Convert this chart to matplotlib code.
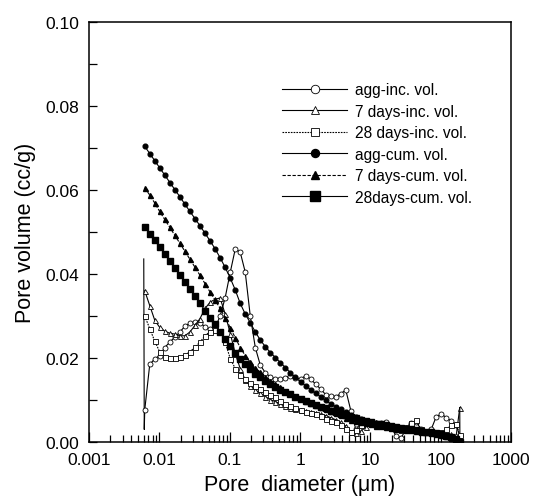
import matplotlib
matplotlib.use("Agg")
import matplotlib.pyplot as plt
from matplotlib.ticker import MultipleLocator, LogLocator, NullFormatter, FixedLocator, FixedFormatter

plt.rcParams['font.family'] = ['Liberation Sans', 'DejaVu Sans']

# pore diameter (um), shared by all series
diameter = [0.0062, 0.0073, 0.0086, 0.0101, 0.0119, 0.0141, 0.0166, 0.0196, 0.0231, 0.0272,
            0.0321, 0.0378, 0.0446, 0.0526, 0.062, 0.073, 0.086, 0.102, 0.120, 0.141,
            0.166, 0.196, 0.231, 0.272, 0.321, 0.378, 0.446, 0.526, 0.62, 0.73,
            0.86, 1.02, 1.20, 1.41, 1.66, 1.96, 2.31, 2.72, 3.21, 3.78,
            4.46, 5.26, 6.2, 7.3, 8.6, 10.2, 12.0, 14.1, 16.6, 19.6,
            23.1, 27.2, 32.1, 37.8, 44.6, 52.6, 62, 73, 86, 102,
            120, 141, 166, 186]

agg_inc = [0.0077, 0.0185, 0.0198, 0.0206, 0.0225, 0.0238, 0.0250, 0.0262, 0.0276, 0.0283,
           0.0286, 0.0283, 0.0275, 0.0268, 0.0272, 0.0300, 0.0343, 0.0405, 0.0460, 0.0452,
           0.0405, 0.0300, 0.0225, 0.0183, 0.0165, 0.0155, 0.0150, 0.0150, 0.0153, 0.0158,
           0.0153, 0.0150, 0.0158, 0.0150, 0.0138, 0.0126, 0.0113, 0.0110, 0.0108, 0.0115,
           0.0124, 0.0075, 0.0030, 0.0045, 0.0050, 0.0042, 0.0040, 0.0045, 0.0048, 0.0035,
           0.0015, 0.0010, 0.0030, 0.0045, 0.0048, 0.0030, 0.0025, 0.0030, 0.0060, 0.0067,
           0.0058, 0.0050, 0.0040, 0.0015]
# first readings of agg-inc (no symbols drawn)
agg_inc_head_d = [0.0060, 0.0061, 0.0062]
agg_inc_head_v = [0.0436, 0.0030, 0.0077]

d7_inc = [0.0360, 0.0325, 0.0290, 0.0273, 0.0264, 0.0259, 0.0257, 0.0253, 0.0253, 0.0262,
          0.0278, 0.0294, 0.0318, 0.0333, 0.0340, 0.0343, 0.0305, 0.0258, 0.0210, 0.0175,
          0.0148, 0.0133, 0.0124, 0.0116, 0.0108, 0.0101, 0.0096, 0.0091, 0.0086, 0.0081,
          0.0078, 0.0076, 0.0073, 0.0071, 0.0068, 0.0066, 0.0063, 0.0058, 0.0053, 0.0047,
          0.0038, 0.0025, 0.0022, 0.0026, 0.0035, 0.0045, 0.0047, 0.0042, 0.0038, 0.0036,
          0.0035, 0.0030, 0.0036, 0.0042, 0.0030, 0.0028, 0.0026, 0.0025, 0.0024, 0.0022,
          0.0020, 0.0018, 0.0016, 0.0082]
d7_inc_tail_d = [186, 187]
d7_inc_tail_v = [0.0082, 0.0]

d28_inc = [0.0300, 0.0270, 0.0240, 0.0215, 0.0203, 0.0200, 0.0200, 0.0202, 0.0207, 0.0215,
           0.0226, 0.0238, 0.0253, 0.0263, 0.0266, 0.0261, 0.0238, 0.0198, 0.0175, 0.0160,
           0.0149, 0.0140, 0.0134, 0.0126, 0.0119, 0.0113, 0.0107, 0.0098, 0.0091, 0.0085,
           0.0080, 0.0076, 0.0072, 0.0069, 0.0066, 0.0062, 0.0055, 0.0050, 0.0048, 0.0040,
           0.0030, 0.0025, 0.0028, 0.0040, 0.0045, 0.0042, 0.0040, 0.0040, 0.0038, 0.0033,
           0.0030, 0.0028, 0.0035, 0.0045, 0.0052, 0.0030, 0.0024, 0.0022, 0.0025, 0.0024,
           0.0030, 0.0040, 0.0044, 0.0016]

agg_cum = [0.0704, 0.0687, 0.0670, 0.0653, 0.0636, 0.0618, 0.0601, 0.0584, 0.0566, 0.0549,
           0.0532, 0.0515, 0.0497, 0.0479, 0.0460, 0.0439, 0.0416, 0.0390, 0.0362, 0.0330,
           0.0305, 0.0284, 0.0262, 0.0243, 0.0227, 0.0213, 0.0201, 0.0189, 0.0177, 0.0165,
           0.0154, 0.0143, 0.0134, 0.0125, 0.0116, 0.0108, 0.0099, 0.0091, 0.0084, 0.0078,
           0.0071, 0.0064, 0.0059, 0.0055, 0.0051, 0.0048, 0.0045, 0.0042, 0.0039, 0.0036,
           0.0034, 0.0032, 0.0030, 0.0028, 0.0026, 0.0024, 0.0023, 0.0021, 0.0019, 0.0017,
           0.0014, 0.0011, 0.0007, 0.0002]

d7_cum = [0.0605, 0.0588, 0.0569, 0.0549, 0.0530, 0.0511, 0.0492, 0.0473, 0.0454, 0.0435,
          0.0416, 0.0397, 0.0377, 0.0357, 0.0338, 0.0318, 0.0296, 0.0272, 0.0248, 0.0225,
          0.0206, 0.0190, 0.0177, 0.0166, 0.0155, 0.0146, 0.0138, 0.0130, 0.0122, 0.0116,
          0.0110, 0.0104, 0.0098, 0.0093, 0.0088, 0.0083, 0.0078, 0.0073, 0.0069, 0.0064,
          0.0058, 0.0053, 0.0050, 0.0047, 0.0045, 0.0042, 0.0039, 0.0037, 0.0035, 0.0033,
          0.0032, 0.0030, 0.0029, 0.0028, 0.0026, 0.0025, 0.0023, 0.0022, 0.0020, 0.0017,
          0.0014, 0.0010, 0.0005, 0.0001]

d28_cum = [0.0512, 0.0496, 0.0480, 0.0464, 0.0448, 0.0431, 0.0415, 0.0398, 0.0381, 0.0364,
           0.0347, 0.0330, 0.0313, 0.0296, 0.0280, 0.0263, 0.0245, 0.0228, 0.0212, 0.0198,
           0.0185, 0.0173, 0.0163, 0.0154, 0.0146, 0.0139, 0.0132, 0.0125, 0.0119, 0.0114,
           0.0108, 0.0103, 0.0098, 0.0093, 0.0089, 0.0084, 0.0080, 0.0075, 0.0071, 0.0067,
           0.0064, 0.0060, 0.0056, 0.0052, 0.0049, 0.0047, 0.0044, 0.0042, 0.0040, 0.0038,
           0.0036, 0.0034, 0.0032, 0.0031, 0.0029, 0.0027, 0.0025, 0.0023, 0.0021, 0.0018,
           0.0015, 0.0011, 0.0006, 0.0001]

x_ticks = [0.001, 0.01, 0.1, 1, 10, 100, 1000]
x_tick_labels = ['0.001', '0.01', '0.1', '1', '10', '100', '1000']

fig = plt.figure(figsize=(5.33, 5.02), dpi=100)
ax = fig.add_axes([0.167, 0.1175, 0.792, 0.8365])

lw = 0.8
ax.plot(agg_inc_head_d, agg_inc_head_v, color='k', lw=lw)
ax.plot(diameter, agg_inc, color='k', lw=lw, marker='o', ms=3.6, mfc='white', mew=0.6,
        label='agg-inc. vol.')
ax.plot(diameter, d7_inc, color='k', lw=lw, marker='^', ms=3.6, mfc='white', mew=0.6,
        label='7 days-inc. vol.')
ax.plot(d7_inc_tail_d, d7_inc_tail_v, color='k', lw=lw)
ax.plot(diameter, d28_inc, color='k', lw=lw, ls=(0, (1.5, 1)), marker='s', ms=3.6, mfc='white',
        mew=0.6, label='28 days-inc. vol.')
ax.plot(diameter, agg_cum, color='k', lw=lw, marker='o', ms=3.4, label='agg-cum. vol.')
ax.plot(diameter, d7_cum, color='k', lw=lw, ls=(0, (3, 1.5)), marker='^', ms=3.6,
        label='7 days-cum. vol.')
ax.plot(diameter, d28_cum, color='k', lw=lw, marker='s', ms=4.2, label='28days-cum. vol.')

ax.set_xscale('log')
ax.set_xlim(0.001, 1000)
ax.set_ylim(0, 0.10)
ax.xaxis.set_major_locator(FixedLocator(x_ticks))
ax.xaxis.set_major_formatter(FixedFormatter(x_tick_labels))
ax.xaxis.set_minor_locator(LogLocator(base=10, subs=range(2, 10), numticks=20))
ax.xaxis.set_minor_formatter(NullFormatter())
ax.yaxis.set_major_locator(MultipleLocator(0.02))
ax.yaxis.set_minor_locator(MultipleLocator(0.01))
ax.yaxis.set_major_formatter(plt.FuncFormatter(lambda v, p: f'{v:.2f}'))

ax.tick_params(axis='both', which='both', direction='in', top=False, right=False,
               labelsize=12.5, width=0.9)
ax.tick_params(axis='x', which='major', length=7, pad=7)
ax.tick_params(axis='x', which='minor', length=5)
ax.tick_params(axis='y', which='both', length=6, pad=7)
for s in ax.spines.values():
    s.set_linewidth(1.1)

ax.set_xlabel('Pore  diameter (\u03bcm)', fontsize=15.5, labelpad=5)
ax.set_ylabel('Pore volume (cc/g)', fontsize=15.5, labelpad=7)

ax.legend(loc='upper left', bbox_to_anchor=(0.457, 0.857), frameon=False, fontsize=11.2,
          handlelength=4.2, handletextpad=0.5, labelspacing=0.42, markerscale=1.7,
          borderaxespad=0, borderpad=0)

fig.savefig('out.png', dpi=100)
